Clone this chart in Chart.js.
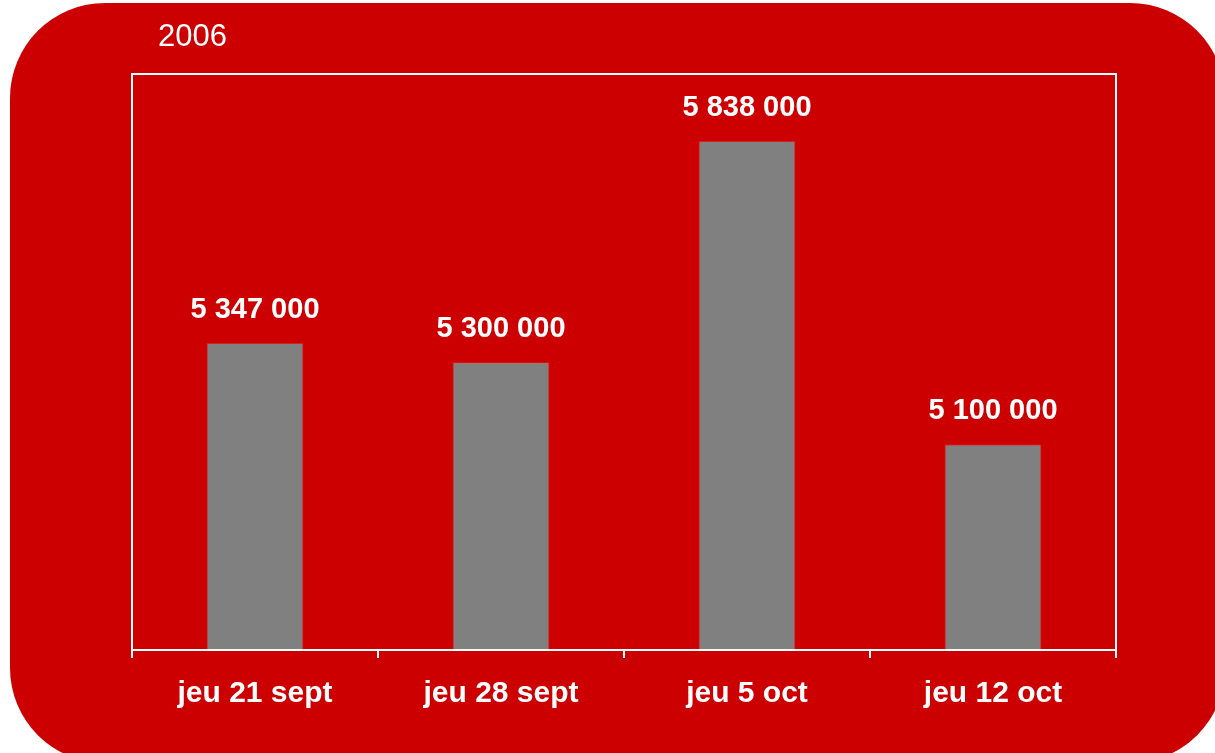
<!DOCTYPE html>
<html>
<head>
<meta charset="utf-8">
<script src="https://cdn.jsdelivr.net/npm/chart.js@4/dist/chart.umd.min.js"></script>
<style>
  html, body { margin: 0; padding: 0; background: #fff; overflow: hidden; }
  canvas { display: block; }
</style>
</head>
<body>
<canvas id="chart" width="1215" height="753"></canvas>
<script>
// data
const dates = ['jeu 21 sept', 'jeu 28 sept', 'jeu 5 oct', 'jeu 12 oct'];
const viewers = [5347000, 5300000, 5838000, 5100000];
const yearLabel = '2006';

const FONT = '"Liberation Sans", Arial, sans-serif';

function formatNumber(n) {
    return String(n).replace(/\B(?=(\d{3})+(?!\d))/g, ' ');
}

// red rounded panel behind everything + frame round the plot
const panelPlugin = {
    id: 'panel',
    beforeDraw(chart) {
        const ctx = chart.ctx;
        ctx.save();
        ctx.fillStyle = '#fff';
        ctx.fillRect(0, 0, chart.width, chart.height);
        ctx.fillStyle = '#cc0000';
        ctx.beginPath();
        ctx.roundRect(10, 3, 1215, 760, 95);
        ctx.fill();

        ctx.fillStyle = '#fff';
        ctx.font = '31px ' + FONT;
        ctx.textBaseline = 'middle';
        ctx.fillText(yearLabel, 158, 37);
        ctx.restore();
    },
    afterDraw(chart) {
        const a = chart.chartArea;
        const ctx = chart.ctx;
        ctx.save();
        ctx.strokeStyle = '#fff';
        ctx.lineWidth = 2;
        ctx.strokeRect(a.left, a.top, a.right - a.left, a.bottom - a.top);
        ctx.restore();
    }
};

// value labels above each bar
const valueLabels = {
    id: 'valueLabels',
    afterDatasetsDraw(chart) {
        const ctx = chart.ctx;
        const meta = chart.getDatasetMeta(0);
        ctx.save();
        ctx.fillStyle = '#fff';
        ctx.font = 'bold 29px ' + FONT;
        ctx.textAlign = 'center';
        ctx.textBaseline = 'middle';
        meta.data.forEach(function(bar, i) {
            ctx.fillText(formatNumber(viewers[i]), bar.x, bar.y - 33);
        });
        ctx.restore();
    }
};

new Chart(document.getElementById('chart'), {
    type: 'bar',
    data: {
        labels: dates,
        datasets: [{
            data: viewers,
            backgroundColor: '#808080',
            borderColor: '#ff0000',
            borderWidth: 1,
            barPercentage: 0.395,
            categoryPercentage: 1
        }]
    },
    options: {
        responsive: false,
        devicePixelRatio: 1,
        animation: false,
        layout: { padding: { left: 132, right: 99, top: 74, bottom: 0 } },
        plugins: {
            legend: { display: false },
            tooltip: { enabled: false }
        },
        scales: {
            x: {
                afterFit: function(scale) { scale.height = 103; },
                border: { color: '#fff', width: 2 },
                grid: {
                    offset: true,
                    drawOnChartArea: false,
                    color: '#fff',
                    lineWidth: 2,
                    tickLength: 8
                },
                ticks: {
                    color: '#fff',
                    padding: 18,
                    font: { family: FONT, size: 30, weight: 'bold' }
                }
            },
            y: {
                display: false,
                min: 4600000,
                max: 6000000
            }
        }
    },
    plugins: [panelPlugin, valueLabels]
});
</script>
</body>
</html>
